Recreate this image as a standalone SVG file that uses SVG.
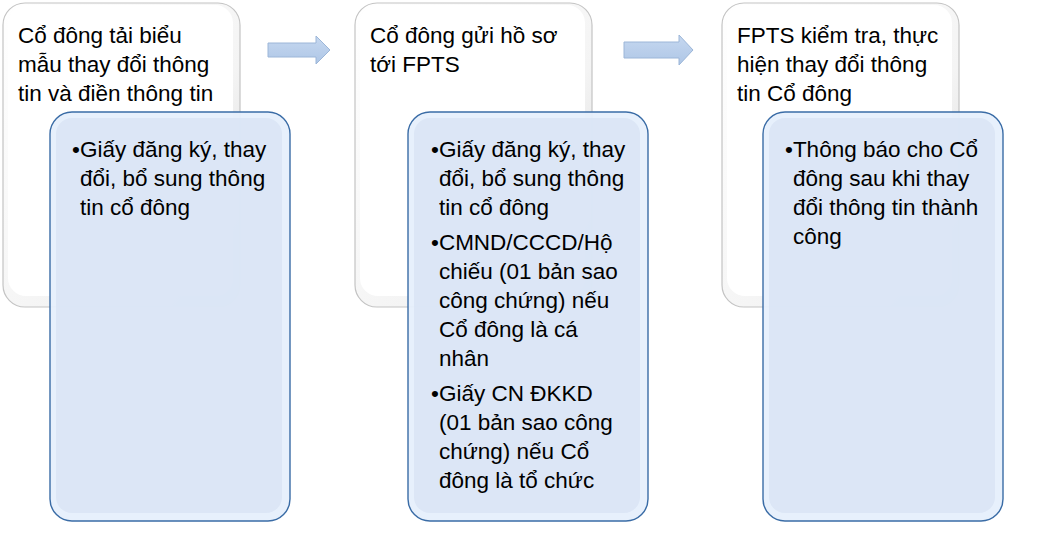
<svg xmlns="http://www.w3.org/2000/svg" width="1053" height="534" viewBox="0 0 1053 534">
<defs>
<linearGradient id="wg" x1="0" y1="0" x2="1" y2="1">
<stop offset="0" stop-color="#ffffff"/>
<stop offset="0.6" stop-color="#f4f4f4"/>
<stop offset="1" stop-color="#d4d4d4"/>
</linearGradient>
<linearGradient id="ag" x1="0" y1="0" x2="0" y2="1">
<stop offset="0" stop-color="#c6d8f0"/>
<stop offset="1" stop-color="#aec6e6"/>
</linearGradient>
<style>
.wo{fill:url(#wg);stroke:#c4c4c4;stroke-width:1.2}
.wi{fill:#ffffff;stroke:none}
.bo{fill:#e6effc;stroke:#3a6ca6;stroke-width:1.4;fill-opacity:0.94}
.bi{fill:#d9e4f5;stroke:none;fill-opacity:0.85}
.ar{fill:url(#ag);stroke:#9cb6d8;stroke-width:1}
text{font-family:"Liberation Sans",Arial,sans-serif;font-size:22.5px;fill:#000000}
</style>
</defs>

<g id="connectors">
<path class="ar" d="M268,43 H316 V36 L330,50 L316,64 V57 H268 Z"/>
<path class="ar" d="M624,42 H679 V35 L693,50 L679,65 V58 H624 Z"/>
</g>

<g id="step1">
<rect class="wo" x="3" y="3" width="237" height="304" rx="22"/>
<rect class="wi" x="8" y="5" width="225" height="291" rx="18"/>
<text x="18" y="43">Cổ đông tải biểu</text>
<text x="18" y="72">mẫu thay đổi thông</text>
<text x="18" y="101">tin và điền thông tin</text>
</g>

<g id="step2">
<rect class="wo" x="355" y="3" width="237" height="304" rx="22"/>
<rect class="wi" x="360" y="5" width="225" height="291" rx="18"/>
<text x="370" y="43">Cổ đông gửi hồ sơ</text>
<text x="370" y="72">tới FPTS</text>
</g>

<g id="step3">
<rect class="wo" x="722" y="3" width="237" height="304" rx="22"/>
<rect class="wi" x="727" y="5" width="225" height="291" rx="18"/>
<text x="737" y="43">FPTS kiểm tra, thực</text>
<text x="737" y="72">hiện thay đổi thông</text>
<text x="737" y="101">tin Cổ đông</text>
</g>

<g id="detail1">
<rect class="bo" x="50" y="112" width="240" height="409" rx="22"/>
<rect class="bi" x="56" y="118" width="226" height="395" rx="16"/>
<text x="72" y="157">•Giấy đăng ký, thay</text>
<text x="80" y="186">đổi, bổ sung thông</text>
<text x="80" y="215">tin cổ đông</text>
</g>

<g id="detail2">
<rect class="bo" x="408" y="112" width="240" height="409" rx="22"/>
<rect class="bi" x="414" y="118" width="226" height="395" rx="16"/>
<text x="431" y="157">•Giấy đăng ký, thay</text>
<text x="439" y="186">đổi, bổ sung thông</text>
<text x="439" y="215">tin cổ đông</text>
<text x="431" y="250">•CMND/CCCD/Hộ</text>
<text x="439" y="279">chiếu (01 bản sao</text>
<text x="439" y="308">công chứng) nếu</text>
<text x="439" y="337">Cổ đông là cá</text>
<text x="439" y="366">nhân</text>
<text x="431" y="401">•Giấy CN ĐKKD</text>
<text x="439" y="430">(01 bản sao công</text>
<text x="439" y="459">chứng) nếu Cổ</text>
<text x="439" y="488">đông là tổ chức</text>
</g>

<g id="detail3">
<rect class="bo" x="763" y="112" width="240" height="409" rx="22"/>
<rect class="bi" x="769" y="118" width="226" height="395" rx="16"/>
<text x="785" y="157">•Thông báo cho Cổ</text>
<text x="793" y="186">đông sau khi thay</text>
<text x="793" y="215">đổi thông tin thành</text>
<text x="793" y="244">công</text>
</g>
</svg>
